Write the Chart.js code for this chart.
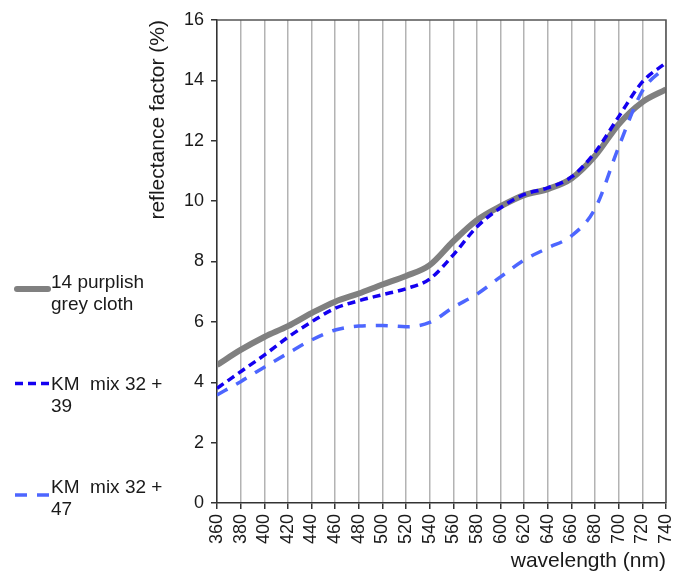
<!DOCTYPE html>
<html><head><meta charset="utf-8">
<script src="https://cdn.jsdelivr.net/npm/chart.js@4/dist/chart.umd.min.js"></script>
<style>html,body{margin:0;padding:0;background:#fff;} #wrap{width:675px;height:574px;position:relative;}</style>
</head><body><div id="wrap"><canvas id="c" width="675" height="574"></canvas></div>
<script>
const wavelengths = [360,380,400,420,440,460,480,500,520,540,560,580,600,620,640,660,680,700,720,740];
const greyCloth = [4.57,5.07,5.5,5.86,6.29,6.67,6.94,7.24,7.52,7.88,8.67,9.37,9.83,10.2,10.4,10.75,11.5,12.55,13.28,13.7];
const kmMix39 = [3.8,4.35,4.9,5.49,6.0,6.45,6.7,6.9,7.1,7.42,8.22,9.15,9.78,10.22,10.44,10.8,11.62,12.8,13.95,14.58];
const kmMix47 = [3.58,4.02,4.5,4.96,5.4,5.73,5.86,5.88,5.84,5.98,6.48,6.92,7.49,8.05,8.45,8.85,9.75,11.8,13.65,14.45];
const yTicks = [0,2,4,6,8,10,12,14,16];
const seriesNames = [['14 purplish','grey cloth'],['KM  mix 32 +','39'],['KM  mix 32 +','47']];

const FONT = "'Liberation Sans', Arial, sans-serif";
const toXY = arr => wavelengths.map((w,i)=>({x:w,y:arr[i]}));

const styles = [
  {color:'#808080', width:6, dash:[]},
  {color:'#1400f0', width:3.5, dash:[8,5]},
  {color:'#4d66ff', width:3.5, dash:[12,10]}
];
const legendPos = [
  {lineY:289, textY:283},
  {lineY:383.5, textY:385},
  {lineY:495, textY:488}
];

const extras = {
  id:'extras',
  afterDatasetsDraw(chart){
    const ctx = chart.ctx, a = chart.chartArea;
    ctx.save();
    ctx.strokeStyle = '#555'; ctx.lineWidth = 1.5;
    ctx.beginPath();
    ctx.moveTo(a.left, a.top); ctx.lineTo(a.right, a.top); ctx.lineTo(a.right, a.bottom);
    ctx.stroke();
    ctx.restore();
  },
  afterDraw(chart){
    const ctx = chart.ctx;
    ctx.save();
    seriesNames.forEach((lines,i)=>{
      const s = styles[i], p = legendPos[i];
      ctx.strokeStyle = s.color; ctx.lineWidth = s.width; ctx.setLineDash(s.dash);
      ctx.lineCap = i===0 ? 'round':'butt';
      ctx.beginPath(); ctx.moveTo(i===0?17:15, p.lineY); ctx.lineTo(i===0?48:50, p.lineY); ctx.stroke();
      ctx.setLineDash([]);
      ctx.fillStyle = '#1a1a1a'; ctx.font = '19px ' + FONT; ctx.textBaseline = 'middle'; ctx.textAlign='left';
      lines.forEach((t,j)=> ctx.fillText(t, 51, p.textY + j*22));
    });
    ctx.restore();
  }
};

new Chart(document.getElementById('c'), {
  type:'line',
  data:{
    datasets:[greyCloth,kmMix39,kmMix47].map((arr,i)=>({
      label: seriesNames[i].join(' '),
      data: toXY(arr),
      borderColor: styles[i].color,
      borderWidth: styles[i].width,
      borderDash: styles[i].dash,
      pointRadius:0,
      fill:false,
      cubicInterpolationMode:'monotone',
      order: 2-i
    }))
  },
  options:{
    responsive:false, animation:false, devicePixelRatio:1,
    layout:{padding:{left:146,right:9,top:20,bottom:0}},
    plugins:{legend:{display:false}, tooltip:{enabled:false}},
    scales:{
      x:{
        type:'linear', min:360, max:740,
        afterBuildTicks: s => { s.ticks = wavelengths.map(v=>({value:v})); },
        ticks:{autoSkip:false, maxRotation:90, minRotation:90, padding:5, color:'#1a1a1a', font:{family:FONT,size:18}},
        grid:{color:'#b3b3b3', lineWidth:1.5, tickColor:'#333', tickLength:6},
        border:{color:'#333', width:1.5},
        title:{display:true, text:'wavelength (nm)', align:'end', color:'#1a1a1a', font:{family:FONT,size:21}, padding:{top:0,bottom:0}},
        afterFit: s => { s.height = 71; s.paddingLeft = 0; s.paddingRight = 0; }
      },
      y:{
        min:0, max:16,
        afterBuildTicks: s => { s.ticks = yTicks.map(v=>({value:v})); },
        ticks:{padding:7, color:'#1a1a1a', font:{family:FONT,size:18}},
        grid:{drawOnChartArea:false, tickColor:'#333', tickLength:6, lineWidth:1.5},
        border:{color:'#333', width:1.5},
        title:{display:true, text:'reflectance factor (%)', align:'end', color:'#1a1a1a', font:{family:FONT,size:21}, padding:{top:0,bottom:4}},
        afterFit: s => { s.width = 71; s.paddingTop = 0; s.paddingBottom = 0; }
      }
    }
  },
  plugins:[extras]
});
</script></body></html>
